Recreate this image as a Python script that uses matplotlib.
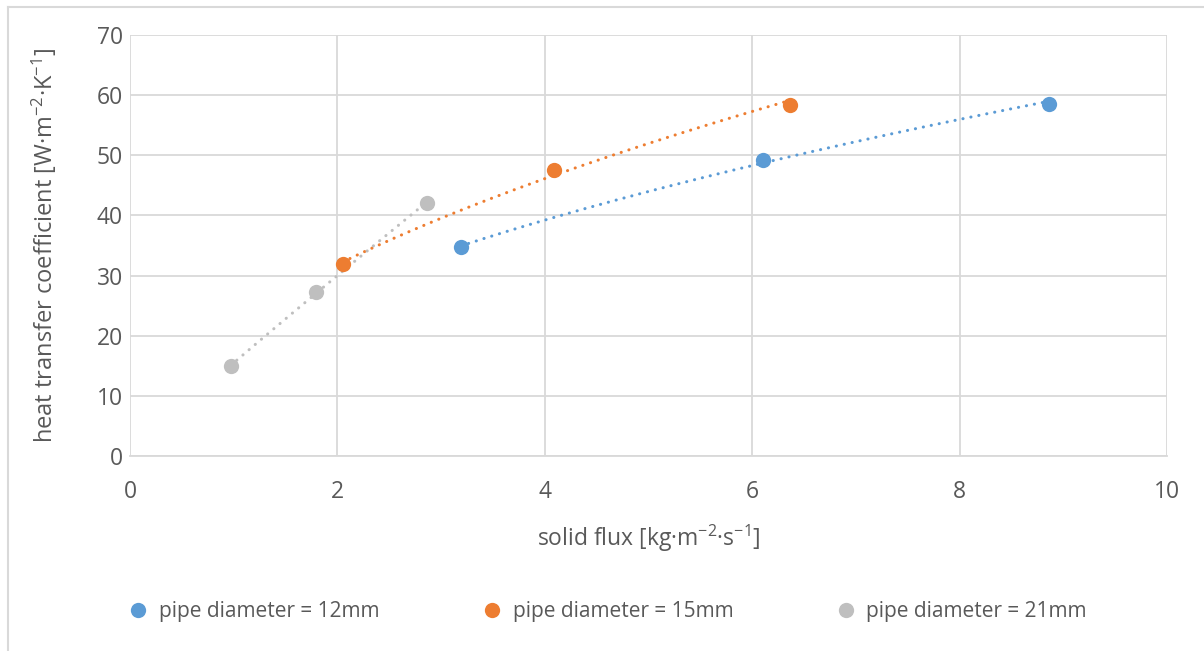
import numpy as np
import matplotlib
matplotlib.use("Agg")
import matplotlib.pyplot as plt
from matplotlib.lines import Line2D

plt.rcParams['font.family'] = ['Open Sans', 'DejaVu Sans']
plt.rcParams['mathtext.default'] = 'regular'

# Measured data: solid flux vs heat transfer coefficient for three pipe diameters
labels = ["pipe diameter = 12mm", "pipe diameter = 15mm", "pipe diameter = 21mm"]
colors = ["#5B9BD5", "#ED7D31", "#BFBFBF"]

flux_12 = [3.19, 6.10, 8.86]
htc_12 = [34.8, 49.2, 58.6]
flux_15 = [2.05, 4.09, 6.36]
htc_15 = [32.0, 47.6, 58.4]
flux_21 = [0.97, 1.79, 2.86]
htc_21 = [15.0, 27.2, 42.0]

series = [(flux_12, htc_12), (flux_15, htc_15), (flux_21, htc_21)]

x_ticks = [0, 2, 4, 6, 8, 10]
y_ticks = [0, 10, 20, 30, 40, 50, 60, 70]

text_color = "#595959"
grid_color = "#D9D9D9"

fig = plt.figure(figsize=(12.04, 6.51), dpi=100)
# chart-area frame: only the top and left edges fall inside the image
fig.add_artist(Line2D([8 / 1204, 1], [1 - 6.5 / 651, 1 - 6.5 / 651], transform=fig.transFigure,
                      color="#D9D9D9", linewidth=1.5))
fig.add_artist(Line2D([8 / 1204, 8 / 1204], [0, 1 - 6.5 / 651], transform=fig.transFigure,
                      color="#D9D9D9", linewidth=1.5))

ax = fig.add_axes([130 / 1204, 1 - 456 / 651, (1167 - 130) / 1204, (456 - 35) / 651])

# Power-law trendlines through each series, then the points on top
for (x, y), c in zip(series, colors):
    x = np.asarray(x)
    y = np.asarray(y)
    b, ln_a = np.polyfit(np.log(x), np.log(y), 1)
    xs = np.linspace(x.min(), x.max(), 200)
    ax.plot(xs, np.exp(ln_a) * xs ** b, color=c, linewidth=2.2,
            linestyle=(0, (0.05, 2.6)), dash_capstyle="round", zorder=3)

for (x, y), c in zip(series, colors):
    ax.plot(x, y, "o", color=c, markersize=11, markeredgewidth=0, zorder=4)

ax.set_xlim(0, 10)
ax.set_ylim(0, 70)
ax.set_xticks(x_ticks)
ax.set_yticks(y_ticks)
ax.grid(True, color=grid_color, linewidth=1.3)
ax.set_axisbelow(True)
for s in ["top", "right", "left"]:
    ax.spines[s].set_visible(False)
ax.spines["bottom"].set_color(grid_color)
ax.spines["bottom"].set_linewidth(1.3)
ax.tick_params(length=0, labelsize=16.5, labelcolor=text_color)
ax.tick_params(axis="y", pad=5)
ax.tick_params(axis="x", pad=17)

ax.set_xlabel("solid flux [kg·m$^{-2}$·s$^{-1}$]", fontsize=16.5, color=text_color, labelpad=14)
ax.set_ylabel("heat transfer coefficient [W·m$^{-2}$·K$^{-1}$]", fontsize=17, color=text_color, labelpad=27)

handles = [Line2D([], [], marker="o", linestyle="none", color=c, markersize=11,
                  markeredgewidth=0) for c in colors]
fig.legend(handles, labels, loc="center", bbox_to_anchor=(0.5, 1 - 612 / 651), ncol=3,
           frameon=False, fontsize=15, labelcolor=text_color, handletextpad=0.0,
           columnspacing=4.4)

fig.savefig("out.png", dpi=100)
